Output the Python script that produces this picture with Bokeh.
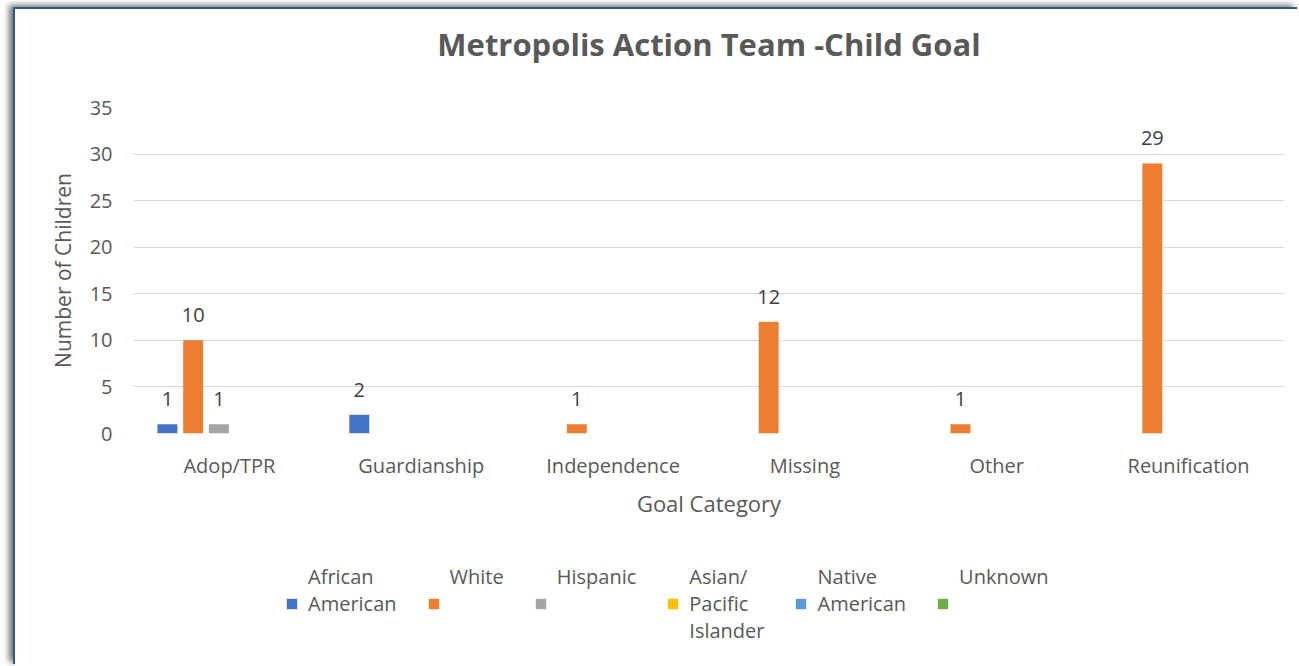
from bokeh.plotting import figure
from bokeh.layouts import column
from bokeh.models import ColumnDataSource, FactorRange, FixedTicker, Legend, LegendItem, Range1d, Title
from bokeh.transform import dodge
from bokeh.core.properties import value
from bokeh.embed import file_html
from bokeh.resources import INLINE

categories = ["Adop/TPR", "Guardianship", "Independence", "Missing", "Other", "Reunification"]
series_names = ["African\nAmerican\n\n", "White\n\n\n", "Hispanic\n\n\n", "Asian/\nPacific\nIslander", "Native\nAmerican\n\n", "Unknown\n\n\n"]
african_american = [1, 2, 0, 0, 0, 0]
white = [10, 0, 1, 12, 1, 29]
hispanic = [1, 0, 0, 0, 0, 0]
asian_pacific = [0, 0, 0, 0, 0, 0]
native_american = [0, 0, 0, 0, 0, 0]
unknown = [0, 0, 0, 0, 0, 0]
y_ticks = [0, 5, 10, 15, 20, 25, 30, 35]
chart_title = "Metropolis Action Team -Child Goal"

series_values = [african_american, white, hispanic, asian_pacific, native_american, unknown]
colors = ["#4472C4", "#ED7D31", "#A5A5A5", "#FFC000", "#5B9BD5", "#70AD47"]
FONT = "Open Sans"

p = figure(x_range=FactorRange(*categories, range_padding=0), y_range=Range1d(0, 35),
           width=1284, height=540, output_backend="svg", toolbar_location=None,
           min_border_left=118, min_border_right=15, min_border_top=98, min_border_bottom=116,
           title=None)

# spacer between frame and title (first added sits closest to the frame)
p.add_layout(Title(text=" ", text_font_size="1px", standoff=40), "above")
p.add_layout(Title(text=chart_title, align="center", text_font=FONT, text_font_size="31px",
                   text_font_style="bold", text_color="#595959", standoff=0), "above")

step = 0.134
for i, (vals, col) in enumerate(zip(series_values, colors)):
    src = ColumnDataSource(dict(cat=categories, val=vals))
    off = (i - 2.5) * step + 0.012
    p.vbar(x=dodge("cat", off, range=p.x_range), top="val", width=0.104, source=src,
           fill_color=col, line_color=None)
    nz = [(c, v) for c, v in zip(categories, vals) if v != 0]
    if nz:
        lsrc = ColumnDataSource(dict(cat=[c for c, _ in nz], val=[v for _, v in nz],
                                     txt=[str(v) for _, v in nz]))
        p.text(x=dodge("cat", off, range=p.x_range), y="val", text="txt", source=lsrc,
               text_align="center", text_baseline="alphabetic", y_offset=-25,
               text_font=value(FONT), text_font_size="20px", text_color="#404040")

p.xgrid.grid_line_color = None
p.ygrid.grid_line_color = "#d9d9d9"
p.ygrid.grid_line_width = 1
p.outline_line_color = None

p.yaxis.ticker = FixedTicker(ticks=y_ticks)
for ax in (p.xaxis[0], p.yaxis[0]):
    ax.axis_line_color = None
    ax.major_tick_line_color = None
    ax.minor_tick_line_color = None
    ax.major_label_text_font = FONT
    ax.major_label_text_font_size = "20px"
    ax.major_label_text_color = "#595959"
    ax.axis_label_text_font = FONT
    ax.axis_label_text_font_style = "normal"
    ax.axis_label_text_color = "#595959"

p.yaxis.axis_label = "Number of Children"
p.yaxis.axis_label_text_font_size = "21px"
p.yaxis.major_label_standoff = 15
p.yaxis.axis_label_standoff = 10
p.xaxis.axis_label = "Goal Category"
p.xaxis.axis_label_text_font_size = "22px"
p.xaxis.major_label_standoff = 12
p.xaxis.axis_label_standoff = 6

# legend strip below the chart (proxy bars lie outside its visible y range)
leg = figure(width=1284, height=117, x_range=Range1d(0, 1), y_range=Range1d(100, 101),
             x_axis_type=None, y_axis_type=None, output_backend="svg", toolbar_location=None,
             min_border=0)
leg.outline_line_color = None
items = []
for name, vals, col in zip(series_names, series_values, colors):
    r = leg.vbar(x=list(range(len(categories))), top=vals, width=0.5,
                 fill_color=col, line_color=None)
    items.append(LegendItem(label=name, renderers=[r]))
legend = Legend(items=items, orientation="horizontal", location=(152, 22),
                glyph_width=13, glyph_height=13, label_standoff=10, spacing=30,
                padding=0, margin=0, border_line_color=None, background_fill_alpha=0,
                label_text_font=FONT, label_text_font_size="20px", label_text_color="#595959",
                label_text_line_height=1.45)
leg.add_layout(legend, "center")

layout = column(p, leg)
layout.margin = (9, 0, 0, 15)
layout.styles = {"box-shadow": "-2px -2px 0 #2e5b8c, -6px -4px 6px rgba(0,0,0,0.55)"}

open("out.html", "w").write(file_html(layout, INLINE))
